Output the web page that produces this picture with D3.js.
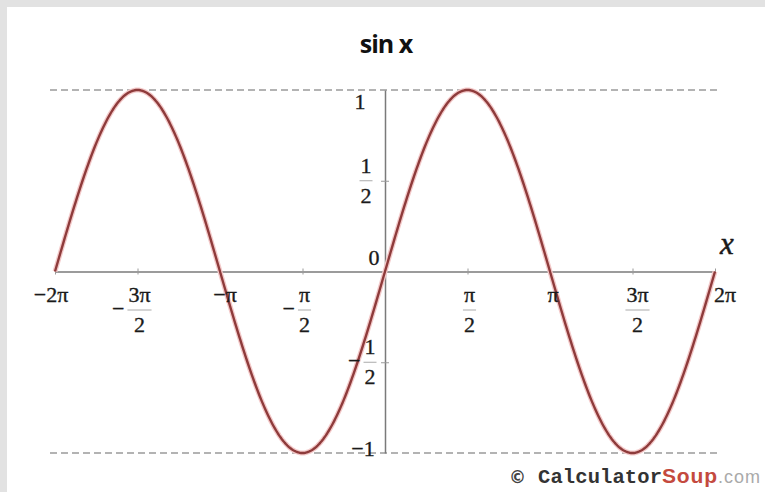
<!DOCTYPE html>
<html>
<head>
<meta charset="utf-8">
<script src="https://cdn.jsdelivr.net/npm/d3@7/dist/d3.min.js"></script>
<style>
  html, body { margin: 0; padding: 0; background: #e2e2e2; }
  svg { display: block; }
</style>
</head>
<body>
<svg id="chart" width="765" height="492"></svg>
<script>
// Plotted function and its domain (in multiples of pi)
const title = "sin x";
const domainPi = [-2, 2];
const samplesPerPi = 120;

// x-axis ticks: value in multiples of pi, sign, numerator, denominator
const xTickValues = [-2, -1.5, -1, -0.5, 0.5, 1, 1.5, 2];
const xTickSigns = ["\u2212", "\u2212", "\u2212", "\u2212", "", "", "", ""];
const xTickNums = ["2\u03c0", "3\u03c0", "\u03c0", "\u03c0", "\u03c0", "\u03c0", "3\u03c0", "2\u03c0"];
const xTickDens = ["", "2", "", "2", "2", "", "2", ""];

// y-axis ticks
const yTickValues = [1, 0.5, 0, -0.5, -1];
const yTickSigns = ["", "", "", "\u2212", "\u2212"];
const yTickNums = ["1", "1", "0", "1", "1"];
const yTickDens = ["", "2", "", "2", ""];

// Reference lines at the extremes
const guideValues = [1, -1];

const svg = d3.select("#chart");
const W = 765, H = 492;

// white panel
svg.append("rect").attr("x", 7).attr("y", 7).attr("width", W - 7).attr("height", H - 7).attr("fill", "#ffffff");

const x = d3.scaleLinear().domain(domainPi.map(d => d * Math.PI)).range([55, 715]);
const y = d3.scaleLinear().domain([-1, 1]).range([453, 90]);

// sample points of sin x
const n = (domainPi[1] - domainPi[0]) * samplesPerPi;
const pts = d3.range(n + 1).map(i => {
  const t = (domainPi[0] + i * (domainPi[1] - domainPi[0]) / n) * Math.PI;
  return [t, Math.sin(t)];
});

// dashed guides at y = ±1
svg.append("g").selectAll("line").data(guideValues).join("line")
  .attr("x1", 50).attr("x2", 718)
  .attr("y1", d => y(d)).attr("y2", d => y(d))
  .attr("stroke", "#9a9a9a").attr("stroke-width", 1.6)
  .attr("stroke-dasharray", "7,4");

// x axis through y = 0
const xAxis = d3.axisBottom(x)
  .tickValues(xTickValues.map(v => v * Math.PI))
  .tickSizeInner(3).tickSizeOuter(0).tickFormat("");
const gx = svg.append("g").attr("transform", `translate(0,${y(0)})`).call(xAxis);
gx.select(".domain").attr("stroke", "#7a7a7a").attr("stroke-width", 1.5);
gx.selectAll(".tick line").attr("stroke", "#9a9a9a").attr("y1", -3).attr("y2", 3);

// y axis through x = 0
const yAxis = d3.axisLeft(y)
  .tickValues([0.5, -0.5])
  .tickSizeInner(0).tickSizeOuter(0).tickFormat("");
const gy = svg.append("g").attr("transform", `translate(${x(0)},0)`).call(yAxis);
gy.select(".domain").attr("stroke", "#7a7a7a").attr("stroke-width", 1.5);
gy.selectAll(".tick line").attr("stroke", "#9a9a9a").attr("x1", -4).attr("x2", 4);

// the curve
const line = d3.line().x(d => x(d[0])).y(d => y(d[1])).curve(d3.curveLinear);
svg.append("path").datum(pts)
  .attr("fill", "none").attr("stroke", "#f3c9c9").attr("stroke-width", 5).attr("d", line);
svg.append("path").datum(pts)
  .attr("fill", "none").attr("stroke", "#8e3b3b").attr("stroke-width", 2.4)
  .attr("stroke-linejoin", "round").attr("d", line);

const serif = "'Liberation Serif', 'Times New Roman', serif";
const fs = 22;
const ink = "#1a1a1a";

function txt(g, xx, yy, s, anchor) {
  return g.append("text").attr("x", xx).attr("y", yy)
    .attr("text-anchor", anchor || "middle").attr("font-family", serif).attr("font-size", fs)
    .attr("fill", ink).attr("stroke", ink).attr("stroke-width", 0.35).text(s);
}

// draws a label that is either plain text or a stacked fraction
function label(g, cx, baseY, sign, num, den) {
  if (!den) {
    txt(g, cx, baseY, sign + num);
    return;
  }
  const barY = baseY + 8;
  const numT = txt(g, cx, baseY, num);
  txt(g, cx, baseY + 30, den);
  const w = Math.max(numT.node().getComputedTextLength(), 11);
  g.append("line").attr("x1", cx - w / 2 - 1).attr("x2", cx + w / 2 + 1)
    .attr("y1", barY).attr("y2", barY).attr("stroke", "#aaa").attr("stroke-width", 1);
  if (sign) txt(g, cx - w / 2 - 4, barY + 6, sign, "end");
}

// x tick labels
const xl = svg.append("g");
const xShift = [-4, 2, 5, 2, 2, 3, 5, 10];
xTickValues.forEach((v, i) => {
  label(xl, x(v * Math.PI) + xShift[i], 302, xTickSigns[i], xTickNums[i], xTickDens[i]);
});

// y tick labels
const yl = svg.append("g");
const yPos = [
  { cx: 360, base: 109 },
  { cx: 366, base: 173 },
  { cx: 374, base: 265 },
  { cx: 370, base: 355 },
  { cx: 363, base: 456 }
];
yTickValues.forEach((v, i) => {
  const p = yPos[i];
  const base = yTickDens[i] ? y(v) - 8 : p.base;
  label(yl, p.cx, base, yTickSigns[i], yTickNums[i], yTickDens[i]);
});

// axis name
svg.append("text").attr("x", 727).attr("y", 254)
  .attr("text-anchor", "middle").attr("font-family", serif).attr("font-style", "italic")
  .attr("font-size", 31).attr("fill", ink).attr("stroke", ink).attr("stroke-width", 0.5).text("x");

// title
svg.append("text").attr("x", 386).attr("y", 53)
  .attr("text-anchor", "middle").attr("font-family", "'Open Sans', sans-serif")
  .attr("font-weight", 700).attr("font-size", 25).attr("letter-spacing", -1)
  .attr("fill", "#111").text(title);

// credit line
const credit = svg.append("g");
credit.append("text").attr("x", 509).attr("y", 483)
  .attr("font-family", "'DejaVu Sans', sans-serif").attr("font-size", 17)
  .attr("font-weight", 700).attr("fill", "#444").text("\u00a9");
credit.append("text").attr("x", 538).attr("y", 483)
  .attr("font-family", "'Liberation Mono', monospace").attr("font-size", 20.5)
  .attr("font-weight", 700).attr("fill", "#333").attr("textLength", 124).text("Calculator");
credit.append("text").attr("x", 662).attr("y", 483)
  .attr("font-family", "'Liberation Sans', sans-serif").attr("font-size", 21)
  .attr("font-weight", 700).attr("fill", "#c44a3e").attr("textLength", 55).text("Soup");
credit.append("text").attr("x", 718).attr("y", 483)
  .attr("font-family", "'Liberation Sans', sans-serif").attr("font-size", 18)
  .attr("fill", "#aaa").attr("textLength", 42).text(".com");
</script>
</body>
</html>
